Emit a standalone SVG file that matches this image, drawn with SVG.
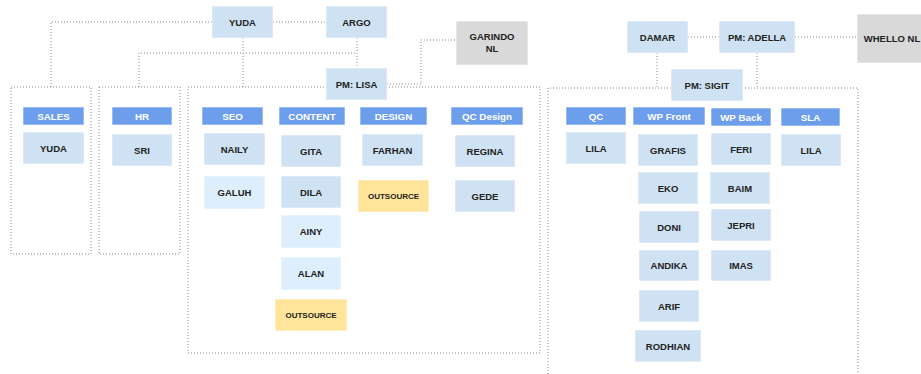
<svg xmlns="http://www.w3.org/2000/svg" width="921" height="374" viewBox="0 0 921 374">
<style>
.c{fill:none;stroke:#8a8a8a;stroke-width:1;stroke-dasharray:1 2}
.h rect{fill:#6d9eeb;stroke:#fff;stroke-width:0.6}
.h text{fill:#fff;font-family:"Liberation Sans",Arial,sans-serif;font-size:9.8px;font-weight:bold;text-anchor:middle}
.n rect{fill:#cfe2f3;stroke:#fff;stroke-width:0.6}
.l rect{fill:#ddeefc;stroke:#fff;stroke-width:0.6}
.y rect{fill:#ffe599;stroke:#fff;stroke-width:0.6}
.g rect{fill:#d9d9d9;stroke:#fff;stroke-width:0.6}
.n text,.l text,.y text,.g text{fill:#222;font-family:"Liberation Sans",Arial,sans-serif;font-size:9.5px;font-weight:bold;text-anchor:middle}
.y text{font-size:8px}
</style>
<rect width="921" height="374" fill="#fff"/>
<g id="connectors">
<path class="c" d="M273 22H326"/>
<path class="c" d="M212 22H51V87"/>
<path class="c" d="M243 38V87"/>
<path class="c" d="M139 87V53H357"/>
<path class="c" d="M357 38V68"/>
<path class="c" d="M387 84H421V40H456"/>
<path class="c" d="M688 37H719"/>
<path class="c" d="M795 37H857"/>
<path class="c" d="M657 53V88"/>
<path class="c" d="M757 53V88"/>
</g>
<g id="containers">
<rect id="sales-area" class="c" x="11" y="87" width="80" height="167"/>
<rect id="hr-area" class="c" x="99" y="87" width="81" height="167"/>
<rect id="lisa-area" class="c" x="188" y="87" width="352" height="266"/>
<path id="sigit-area" class="c" d="M548 380V88H858V380"/>
</g>
<g id="yuda" class="n"><rect x="212" y="6" width="61" height="32"/><text x="242.5" y="25.5">YUDA</text></g>
<g id="argo" class="n"><rect x="326" y="6" width="61" height="32"/><text x="356.5" y="25.5">ARGO</text></g>
<g id="pm-lisa" class="n"><rect x="326" y="68" width="61" height="32"/><text x="356.5" y="87.5">PM: LISA</text></g>
<g id="garindo" class="g"><rect x="456" y="21" width="72" height="44"/><text x="492" y="40">GARINDO</text><text x="492" y="52">NL</text></g>
<g id="damar" class="n"><rect x="627" y="21" width="61" height="32"/><text x="657.5" y="40.5">DAMAR</text></g>
<g id="pm-adella" class="n"><rect x="719" y="21" width="76" height="32"/><text x="757" y="40.5">PM: ADELLA</text></g>
<g id="whello" class="g"><rect x="857" y="14" width="70" height="49"/><text x="892" y="41.5">WHELLO NL</text></g>
<g id="pm-sigit" class="n"><rect x="671" y="69" width="72" height="32"/><text x="707" y="88.5">PM: SIGIT</text></g>

<g id="h-sales" class="h"><rect x="23" y="107" width="61" height="18"/><text x="53.5" y="119.5">SALES</text></g>
<g id="h-hr" class="h"><rect x="112" y="107" width="60" height="18"/><text x="142" y="119.5">HR</text></g>
<g id="h-seo" class="h"><rect x="202" y="107" width="61" height="18"/><text x="232.5" y="119.5">SEO</text></g>
<g id="h-content" class="h"><rect x="279" y="107" width="66" height="18"/><text x="312" y="119.5">CONTENT</text></g>
<g id="h-design" class="h"><rect x="360" y="107" width="67" height="18"/><text x="393.5" y="119.5">DESIGN</text></g>
<g id="h-qcdesign" class="h"><rect x="451" y="107" width="72" height="18"/><text x="487" y="119.5">QC Design</text></g>
<g id="h-qc" class="h"><rect x="566" y="107" width="60" height="18"/><text x="596" y="119.5">QC</text></g>
<g id="h-wpfront" class="h"><rect x="633" y="107" width="72" height="18"/><text x="669" y="119.5">WP Front</text></g>
<g id="h-wpback" class="h"><rect x="711" y="108" width="60" height="18"/><text x="741" y="120.5">WP Back</text></g>
<g id="h-sla" class="h"><rect x="781" y="108" width="59" height="18"/><text x="810.5" y="120.5">SLA</text></g>

<g id="sales-yuda" class="n"><rect x="23" y="132" width="61" height="32"/><text x="53.5" y="151.5">YUDA</text></g>
<g id="hr-sri" class="n"><rect x="112" y="134" width="60" height="32"/><text x="142" y="153.5">SRI</text></g>
<g id="naily" class="n"><rect x="204" y="133" width="61" height="32"/><text x="234.5" y="152.5">NAILY</text></g>
<g id="galuh" class="l"><rect x="204" y="176" width="61" height="33"/><text x="234.5" y="195.5">GALUH</text></g>
<g id="gita" class="n"><rect x="281" y="135" width="60" height="32"/><text x="311" y="154.5">GITA</text></g>
<g id="dila" class="n"><rect x="281" y="176" width="60" height="32"/><text x="311" y="195.5">DILA</text></g>
<g id="ainy" class="l"><rect x="281" y="215" width="60" height="33"/><text x="311" y="234.5">AINY</text></g>
<g id="alan" class="l"><rect x="281" y="257" width="60" height="33"/><text x="311" y="276.5">ALAN</text></g>
<g id="outsource-content" class="y"><rect x="275" y="299" width="72" height="32"/><text x="311" y="317.5">OUTSOURCE</text></g>
<g id="farhan" class="n"><rect x="362" y="134" width="61" height="32"/><text x="392.5" y="153.5">FARHAN</text></g>
<g id="outsource-design" class="y"><rect x="358" y="180" width="71" height="32"/><text x="393.5" y="198.5">OUTSOURCE</text></g>
<g id="regina" class="n"><rect x="455" y="135" width="60" height="32"/><text x="485" y="154.5">REGINA</text></g>
<g id="gede" class="n"><rect x="455" y="180" width="60" height="32"/><text x="485" y="199.5">GEDE</text></g>

<g id="qc-lila" class="n"><rect x="566" y="132" width="60" height="32"/><text x="596" y="151.5">LILA</text></g>
<g id="grafis" class="n"><rect x="638" y="134" width="60" height="32"/><text x="668" y="153.5">GRAFIS</text></g>
<g id="eko" class="n"><rect x="638" y="172" width="60" height="32"/><text x="668" y="191.5">EKO</text></g>
<g id="doni" class="n"><rect x="639" y="211" width="60" height="32"/><text x="669" y="230.5">DONI</text></g>
<g id="andika" class="n"><rect x="639" y="250" width="60" height="31"/><text x="669" y="269">ANDIKA</text></g>
<g id="arif" class="n"><rect x="639" y="290" width="60" height="32"/><text x="669" y="309.5">ARIF</text></g>
<g id="rodhian" class="n"><rect x="635" y="330" width="66" height="32"/><text x="668" y="349.5">RODHIAN</text></g>
<g id="feri" class="n"><rect x="711" y="133" width="60" height="32"/><text x="741" y="152.5">FERI</text></g>
<g id="baim" class="n"><rect x="710" y="172" width="60" height="32"/><text x="740" y="191.5">BAIM</text></g>
<g id="jepri" class="n"><rect x="711" y="209" width="60" height="32"/><text x="741" y="228.5">JEPRI</text></g>
<g id="imas" class="n"><rect x="711" y="250" width="60" height="31"/><text x="741" y="269">IMAS</text></g>
<g id="sla-lila" class="n"><rect x="781" y="134" width="60" height="32"/><text x="811" y="153.5">LILA</text></g>
</svg>
